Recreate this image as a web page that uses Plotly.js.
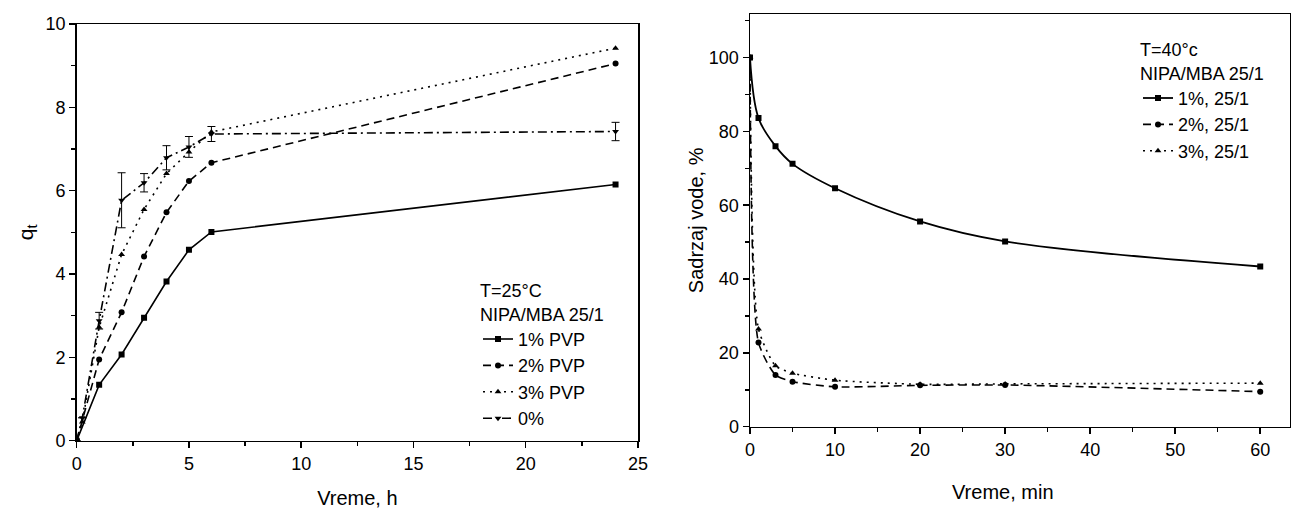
<!DOCTYPE html>
<html>
<head>
<meta charset="utf-8">
<script src="https://cdn.plot.ly/plotly-3.0.1.min.js"></script>
<style>html,body{margin:0;padding:0;background:#fff;}#chart{width:1291px;height:512px;}</style>
</head>
<body>
<div id="chart"></div>
<script>
// ---- Left panel: q_t vs time (h), T=25°C ----
const timeH = [0, 1, 2, 3, 4, 5, 6, 24];
const pvp1 = [0, 1.34, 2.07, 2.95, 3.82, 4.58, 5.01, 6.15];
const pvp2 = [0, 1.95, 3.08, 4.42, 5.48, 6.23, 6.67, 9.05];
const timeH3 = [0, 0.25, 1, 2, 3, 4, 5, 6, 24];
const pvp3 = [0, 0.45, 2.72, 4.47, 5.55, 6.41, 6.93, 7.41, 9.42];
const timeH0 = [0, 0.25, 1, 2, 3, 4, 5, 6, 24];
const pvp0 = [0, 0.55, 2.88, 5.77, 6.19, 6.79, 7.05, 7.36, 7.42];
const pvp0Err = [null, null, 0.2, 0.66, 0.22, 0.29, 0.25, 0.18, 0.22];
const leftNames = ['1% PVP', '2% PVP', '3% PVP', '0%'];

// ---- Right panel: water content vs time (min), T=40°C ----
const timeMin = [0, 1, 3, 5, 10, 20, 30, 60];
const water1 = [100, 83.6, 76.0, 71.2, 64.6, 55.6, 50.2, 43.4];
const water2 = [100, 22.8, 14.0, 12.2, 10.8, 11.2, 11.3, 9.5];
const water3 = [100, 26.5, 16.5, 14.5, 12.6, 11.5, 11.6, 11.8];
const rightNames = ['1%, 25/1', '2%, 25/1', '3%, 25/1'];

const leftXTicks = [0, 5, 10, 15, 20, 25];
const leftYTicks = [0, 2, 4, 6, 8, 10];
const rightXTicks = [0, 10, 20, 30, 40, 50, 60];
const rightYTicks = [0, 20, 40, 60, 80, 100];

const W = 1291, H = 512;
const FONT = 'Liberation Sans, Arial, Helvetica, sans-serif';
const blk = '#000';

function tr(x, y, name, dash, symbol, xa, ya, leg, extra) {
  return Object.assign({
    type: 'scatter', mode: 'lines+markers', x: x, y: y, name: name,
    xaxis: xa, yaxis: ya, legend: leg,
    line: {color: blk, width: 1.6, dash: dash},
    marker: {color: blk, size: 6, symbol: symbol}
  }, extra || {});
}

const data = [
  tr(timeH, pvp1, leftNames[0], 'solid', 'square', 'x', 'y', 'legend'),
  tr(timeH, pvp2, leftNames[1], '8px,5px', 'circle', 'x', 'y', 'legend'),
  tr(timeH3, pvp3, leftNames[2], '2px,5px', 'triangle-up', 'x', 'y', 'legend'),
  tr(timeH0, pvp0, leftNames[3], '9px,4px,2px,4px', 'triangle-down', 'x', 'y', 'legend',
     {error_y: {type: 'data', array: pvp0Err, visible: true, color: blk, thickness: 1, width: 4}}),
  tr(timeMin, water1, rightNames[0], 'solid', 'square', 'x2', 'y2', 'legend2',
     {line: {color: blk, width: 1.8, dash: 'solid', shape: 'spline', smoothing: 1}}),
  tr(timeMin, water2, rightNames[1], '8px,5px', 'circle', 'x2', 'y2', 'legend2',
     {line: {color: blk, width: 1.6, dash: '8px,5px', shape: 'spline', smoothing: 0.6}}),
  tr(timeMin, water3, rightNames[2], '2px,5px', 'triangle-up', 'x2', 'y2', 'legend2',
     {line: {color: blk, width: 1.6, dash: '2px,5px', shape: 'spline', smoothing: 0.6}})
];

function axis(extra) {
  return Object.assign({
    showgrid: false, zeroline: false, showline: true, linecolor: blk, linewidth: 1.5,
    mirror: true, ticks: 'outside', ticklen: 6, tickwidth: 1.5, tickcolor: blk,
    tickfont: {family: FONT, size: 18, color: blk}, automargin: false,
    fixedrange: true
  }, extra);
}

const layout = {
  width: W, height: H,
  margin: {l: 0, r: 0, t: 0, b: 0, autoexpand: false},
  paper_bgcolor: '#fff', plot_bgcolor: '#fff',
  font: {family: FONT, size: 18, color: blk},
  showlegend: true,
  xaxis: axis({domain: [76.7 / W, 638 / W], range: [0, 25], anchor: 'y',
    tickvals: leftXTicks, minor: {ticks: 'outside', dtick: 2.5, ticklen: 4, tickwidth: 1.5, tickcolor: blk},
    title: {text: 'Vreme, h', font: {family: FONT, size: 20}, standoff: 18}}),
  yaxis: axis({domain: [1 - 440.7 / H, 1 - 24 / H], range: [0, 10], anchor: 'x',
    tickvals: leftYTicks, minor: {ticks: 'outside', dtick: 1, ticklen: 4, tickwidth: 1.5, tickcolor: blk},
    title: {text: 'q<sub>t</sub>', font: {family: FONT, size: 21}, standoff: 6}}),
  xaxis2: axis({domain: [750 / W, 1290 / W], range: [0, 63.5], anchor: 'y2',
    tickvals: rightXTicks, minor: {ticks: 'outside', dtick: 5, ticklen: 4, tickwidth: 1.5, tickcolor: blk}}),
  yaxis2: axis({domain: [1 - 426.7 / H, 1 - 14 / H], range: [0, 111.8], anchor: 'x2',
    tickvals: rightYTicks, minor: {ticks: 'outside', dtick: 10, ticklen: 4, tickwidth: 1.5, tickcolor: blk},
    title: {text: 'Sadrzaj vode, %', font: {family: FONT, size: 20}, standoff: 0}}),
  annotations: [
    {text: 'Vreme, min', xref: 'paper', yref: 'paper', x: 1003 / W, y: 1 - 492 / H,
     xanchor: 'center', yanchor: 'middle', showarrow: false, font: {family: FONT, size: 20, color: blk}}
  ],
  legend: {x: 478 / W, y: 1 - 274 / H, xanchor: 'left', yanchor: 'top',
    bgcolor: 'rgba(0,0,0,0)', borderwidth: 0, font: {family: FONT, size: 18, color: blk},
    title: {text: 'T=25°C<br>NIPA/MBA 25/1', side: 'top', font: {family: FONT, size: 18}},
    tracegroupgap: 0},
  legend2: {x: 1138 / W, y: 1 - 33 / H, xanchor: 'left', yanchor: 'top',
    bgcolor: 'rgba(0,0,0,0)', borderwidth: 0, font: {family: FONT, size: 18, color: blk},
    title: {text: 'T=40°c<br>NIPA/MBA 25/1', side: 'top', font: {family: FONT, size: 18}},
    tracegroupgap: 0}
};

Plotly.newPlot('chart', data, layout, {displayModeBar: false, staticPlot: true});
</script>
</body>
</html>
